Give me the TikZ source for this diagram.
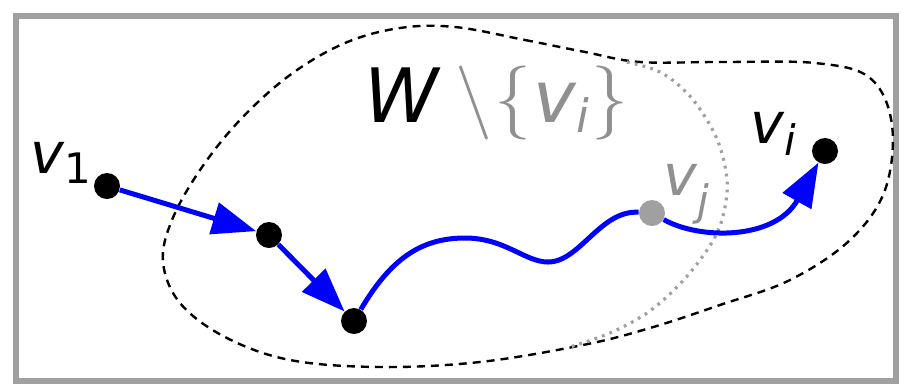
\documentclass[tikz,border=0pt]{standalone}
\usepackage{graphicx}
\usepackage{fontspec}
\usetikzlibrary{arrows.meta}
\newfontfamily\dvs{DejaVu Sans}
\definecolor{framegray}{HTML}{A0A0A0}
\definecolor{txtgray}{HTML}{909090}
\definecolor{pathblue}{HTML}{0000FF}
\tikzset{
  dot/.style={circle,fill=black,inner sep=0pt,minimum size=13pt},
  graydot/.style={circle,fill=framegray,inner sep=0pt,minimum size=13pt},
  lbl/.style={inner sep=0pt,anchor=base west},
  bluearrow/.style={draw=pathblue,line width=2.5pt,-{Triangle[length=22pt,width=16pt]}},
  blueline/.style={draw=pathblue,line width=2.5pt},
  region/.style={draw=black,line width=1.2pt,dash pattern=on 4pt off 3pt},
  dottedarc/.style={draw=framegray,line width=1.6pt,dash pattern=on 1.4pt off 2.6pt}
}
\begin{document}
\begin{tikzpicture}[x=0.5pt,y=-0.5pt]
\useasboundingbox (0,0) rectangle (912,388);
\fill[white] (0,0) rectangle (912,388);
\draw[framegray,line width=2.6pt] (16,16) rectangle (896,381);

% region W
\draw[region] plot[smooth cycle,tension=0.6] coordinates {
 (455,27) (525,40) (585,52) (640,62) (720,62) (815,63) (870,78) (892,125)
 (885,190) (850,240) (790,280) (720,305) (650,328) (583,345) (480,362)
 (380,367) (290,360) (225,337) (180,303) (163,262) (172,220) (200,170)
 (240,120) (290,75) (345,43) (400,28)};

% dotted boundary of W minus {v_i}
\draw[dottedarc] plot[smooth,tension=0.6] coordinates {
 (627,62) (660,72) (687,93) (707,120) (720,147) (727,180) (725,207)
 (717,233) (700,260) (677,287) (647,313) (610,333) (570,347)};

% vertices
\node[dot] (a) at (107,186) {};
\node[dot] (b) at (269,235) {};
\node[dot] (c) at (354,321) {};
\node[graydot] (vj) at (652,213) {};
\node[dot] (vi) at (825,151) {};

% path
\draw[bluearrow] (a) -- (b);
\draw[bluearrow] (b) -- (c);
\draw[blueline] (c) .. controls (390,260) and (420,238) .. (465,238)
  .. controls (505,238) and (525,262) .. (548,262)
  .. controls (580,262) and (600,210) .. (vj);
\draw[bluearrow] (vj) .. controls (700,240) and (775,240) .. (vi);

% labels
\node[lbl] (l1) at (30,173) {\dvs\itshape\fontsize{28.5}{30}\selectfont v\raisebox{-5pt}{\upshape\fontsize{21}{22}\selectfont 1}};
\node[lbl] (li) at (750,143) {\dvs\itshape\fontsize{28.5}{30}\selectfont v\raisebox{-6pt}{\fontsize{21}{22}\selectfont i}};
\node[lbl,text=txtgray] (lj) at (663,195) {\dvs\itshape\fontsize{28.5}{30}\selectfont v\raisebox{-10pt}{\fontsize{21}{22}\selectfont j}};

\node[lbl] (W) at (364,122) {\dvs\itshape\fontsize{37.5}{40}\selectfont W};
\node[lbl,text=txtgray] (sm) at (455,121) {\scalebox{3.7}{$\setminus$}};
\node[lbl,text=txtgray] (lb) at (494,121) {\scalebox{3.7}{$\{$}};
\node[lbl,text=txtgray] (wv) at (533,122) {\dvs\itshape\fontsize{36}{40}\selectfont v\raisebox{-5pt}{\fontsize{23}{24}\selectfont i}};
\node[lbl,text=txtgray] (rb) at (591,121) {\scalebox{3.7}{$\}$}};
\end{tikzpicture}
\end{document}
